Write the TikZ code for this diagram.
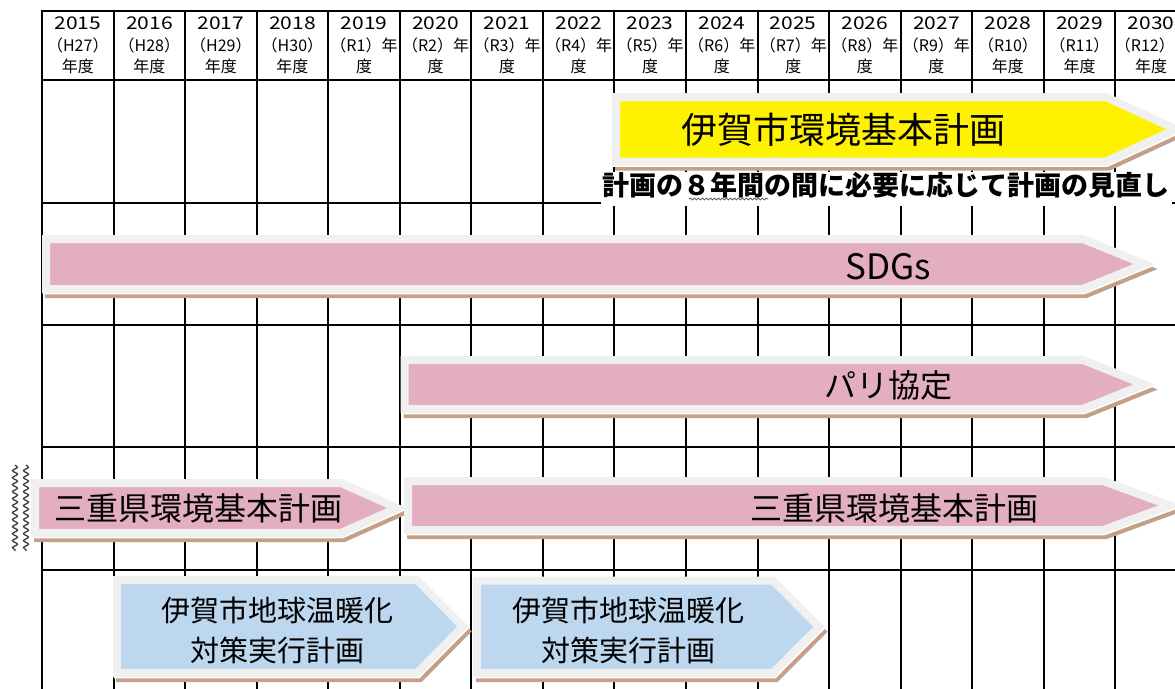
\documentclass[tikz,border=0pt]{standalone}
\usepackage{fontspec}
\setmainfont{Noto Sans CJK JP}
\newfontfamily\yearfont[FakeStretch=1.2]{Noto Sans CJK JP}
\usetikzlibrary{decorations.pathmorphing}
\definecolor{rim}{RGB}{240,240,240}
\definecolor{pinkfill}{RGB}{227,175,192}
\definecolor{bluefill}{RGB}{189,215,238}
\definecolor{shadowc}{RGB}{196,160,136}
\tikzset{
  gridline/.style={line width=2pt,line cap=rect},
  yeartext/.style={font=\yearfont\fontsize{17.5}{20}\selectfont},
  headtext/.style={font=\fontsize{16}{18}\selectfont},
  plantext/.style={font=\fontsize{32}{36}\selectfont},
  warmtext/.style={font=\fontsize{29}{40}\selectfont,align=center},
  wavy/.style={decorate,decoration={snake,segment length=7pt,amplitude=2.5pt},line width=1.3pt,black!75}
}
\begin{document}
\begin{tikzpicture}[x=1pt,y=-1pt]
\useasboundingbox (0,0) rectangle (1175,688);
\foreach \yy in {11,80,203,325,447,570}{
  \draw[gridline] (42,\yy) -- (1176,\yy);
}
\foreach \k in {0,...,15}{
  \draw[gridline] ({42+71.55*\k},11) -- ({42+71.55*\k},689);
  \pgfmathtruncatemacro\yr{2015+\k}
  \node[yeartext] (yr\k) at ({77.8+71.55*\k},23) {\yr};
}
\foreach \k/\era in {0/H27,1/H28,2/H29,3/H30,13/R10,14/R11}{
  \node[headtext] (era\k) at ({77.8+71.55*\k},45) {（\era）};
  \node[headtext] (nendo\k) at ({77.8+71.55*\k},66) {年度};
}
\node[headtext,anchor=east,inner xsep=0pt] (era15) at (1175,45) {（R12）};
\node[headtext] (nendo15) at ({77.8+71.55*15},66) {年度};
\foreach \k/\era in {4/R1,5/R2,6/R3,7/R4,8/R5,9/R6,10/R7,11/R8,12/R9}{
  \node[headtext] (era\k) at ({77.8+71.55*\k},45) {（\era）年};
  \node[headtext] (nendo\k) at ({77.8+71.55*\k},66) {度};
}
\foreach \lx/\ty/\by/\sx/\tx/\col in {616/97/161.5/1106/1176/yellow,46/239/289/1083/1144/pinkfill,
    404.5/360/409/1083/1144/pinkfill,35/483/533/341/397/pinkfill,408/481/530/1103/1170/pinkfill,
    117/580/673/417/463/bluefill,477/580.5/673/773/819/bluefill}{
  \filldraw[fill=shadowc,draw=shadowc,line width=8pt,shift={(3,5)}]
    (\lx,\ty) -- (\sx,\ty) -- (\tx,{(\ty+\by)/2}) -- (\sx,\by) -- (\lx,\by) -- cycle;
  \filldraw[fill=white,draw=white,line width=8pt,shift={(0.8,1.3)}]
    (\lx,\ty) -- (\sx,\ty) -- (\tx,{(\ty+\by)/2}) -- (\sx,\by) -- (\lx,\by) -- cycle;
  \filldraw[fill=\col,draw=rim,line width=8pt]
    (\lx,\ty) -- (\sx,\ty) -- (\tx,{(\ty+\by)/2}) -- (\sx,\by) -- (\lx,\by) -- cycle;
}
\node[font=\fontsize{36}{40}\selectfont] (igaplan) at (843,130) {伊賀市環境基本計画};
\node[fill=white,anchor=base,inner xsep=2pt,inner ysep=2pt,text height=21pt,text depth=9pt,
  font=\bfseries\fontsize{27}{30}\selectfont] (review) at (886,195) {計画の８年間の間に必要に応じて計画の見直し};
\draw[decorate,decoration={snake,segment length=4pt,amplitude=1pt},line width=0.7pt,black!70] (689,199) -- (768,199);
\node[font=\fontsize{35}{40}\selectfont] (sdgs) at (888,267) {SDGs};
\node[plantext] (paris) at (888,385) {パリ協定};
\node[plantext] (mieold) at (198,508) {三重県環境基本計画};
\node[plantext] (mienew) at (894,508) {三重県環境基本計画};
\node[warmtext] (warmold) at (277,630) {伊賀市地球温暖化\\対策実行計画};
\node[warmtext] (warmnew) at (628,630) {伊賀市地球温暖化\\対策実行計画};
\foreach \xx in {15,26}{
  \draw[wavy] (\xx,465) -- (\xx,551);
}
\end{tikzpicture}
\end{document}
